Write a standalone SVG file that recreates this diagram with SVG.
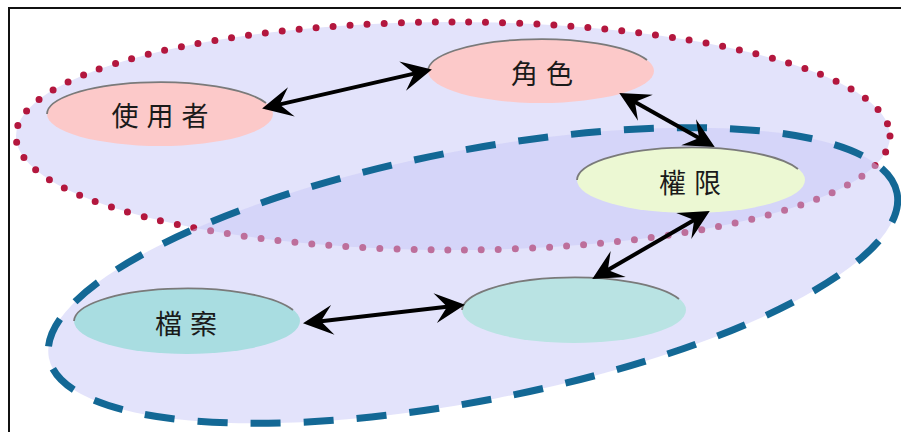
<svg xmlns="http://www.w3.org/2000/svg" width="901" height="432" viewBox="0 0 901 432">
  <defs>
    <style>
      .lbl { font-family: "Noto Sans CJK TC", "Noto Sans CJK SC", sans-serif; font-size: 27px; fill: #1a1a1a; text-anchor: middle; letter-spacing: 8px; }
      .rim { fill: none; stroke: #7a7a7a; stroke-width: 1.8; }
      .conn { stroke: #000; stroke-width: 4; fill: none; marker-start: url(#arr); marker-end: url(#arr); }
    </style>
    <marker id="arr" markerUnits="userSpaceOnUse" markerWidth="34" markerHeight="34" viewBox="0 -17 34 34" refX="14" refY="0" orient="auto-start-reverse" overflow="visible">
      <path d="M0,-15 L30,0 L0,15 L12,0 Z" fill="#000"/>
    </marker>
  </defs>
  <rect x="0" y="0" width="901" height="432" fill="#fff"/>
  <line x1="8" y1="8" x2="901" y2="8" stroke="#111" stroke-width="2"/>
  <line x1="9" y1="8" x2="9" y2="432" stroke="#111" stroke-width="2"/>

  <g id="group-role">
    <ellipse cx="453" cy="136" rx="437" ry="114" fill="#e3e3fb"/>
    <ellipse cx="453" cy="136" rx="437" ry="114" fill="none" stroke="#b3173e" stroke-width="7" stroke-linecap="round" stroke-dasharray="0 17"/>
  </g>
  <g id="group-permission">
    <ellipse cx="473" cy="275.5" rx="432" ry="125" transform="rotate(-11 473 275.5)" fill="#c8c8f8" fill-opacity="0.5"/>
    <ellipse cx="473" cy="275.5" rx="432" ry="125" transform="rotate(-11 473 275.5)" fill="none" stroke="#136895" stroke-width="7" stroke-dasharray="30 23"/>
  </g>

  <g id="node-user">
    <ellipse cx="160" cy="114" rx="113" ry="32" fill="#fcc9c9"/>
    <path class="rim" d="M47,114 A113 32 0 0 1 266,103"/>
    <text class="lbl" x="164" y="126">使用者</text>
  </g>
  <g id="node-role">
    <ellipse cx="541" cy="71" rx="113" ry="32" fill="#fcc9c9"/>
    <path class="rim" d="M428,71 A113 32 0 0 1 647,60"/>
    <text class="lbl" x="546" y="84">角色</text>
  </g>
  <g id="node-perm">
    <ellipse cx="691" cy="180" rx="114" ry="33" fill="#ecf8d3"/>
    <path class="rim" d="M577,180 A114 33 0 0 1 798,169"/>
    <text class="lbl" x="694" y="193">權限</text>
  </g>
  <g id="node-file">
    <ellipse cx="187" cy="321" rx="113" ry="33" fill="#a9dde1"/>
    <path class="rim" d="M74,321 A113 33 0 0 1 293,310"/>
    <text class="lbl" x="190" y="334">檔案</text>
  </g>
  <g id="node-blank">
    <ellipse cx="574" cy="310" rx="112" ry="33" fill="#b9e3e3"/>
    <path class="rim" d="M462,310 A112 33 0 0 1 679,299"/>
  </g>

  <g id="connectors">
    <line class="conn" x1="277.7" y1="104.9" x2="416.3" y2="73.1"/>
    <line class="conn" x1="633.2" y1="100.9" x2="700.8" y2="139.1"/>
    <line class="conn" x1="695.9" y1="219" x2="606.1" y2="271"/>
    <line class="conn" x1="318.9" y1="321.4" x2="449.1" y2="306.6"/>
  </g>
</svg>
